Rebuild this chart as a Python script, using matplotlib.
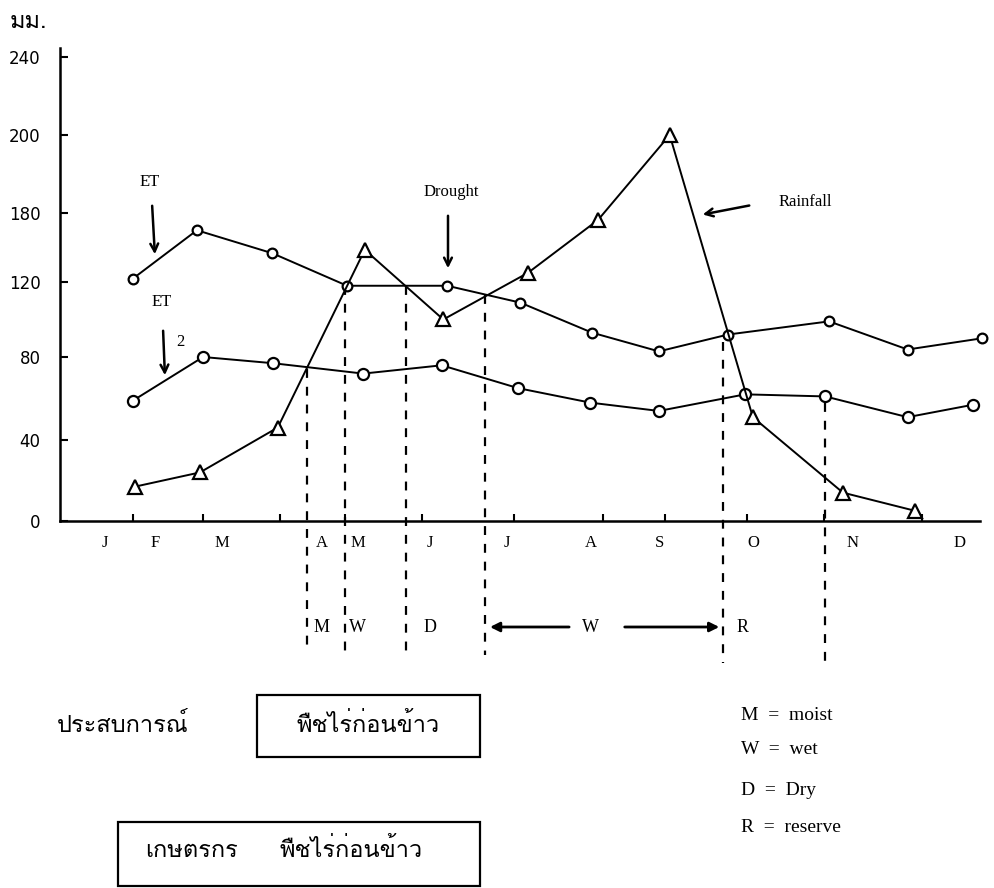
import numpy as np
import matplotlib
matplotlib.use('Agg')
import matplotlib.pyplot as plt
from matplotlib import font_manager
from matplotlib.ft2font import FT2Font
from matplotlib.patches import Rectangle

# values, mm per month (x = month number, hand-drawn so a bit uneven)
et1_x = [1.00, 1.83, 2.81, 3.78, 5.08, 6.03, 6.96, 7.83, 8.73, 10.04, 11.06, 12.03]
et1_mm = [123, 165, 145, 118, 118, 109, 93, 83, 92, 99, 84, 90]

et2_x = [1.00, 1.91, 2.82, 3.99, 5.01, 6.00, 6.94, 7.83, 8.95, 9.99, 11.06, 11.91]
et2_mm = [59, 80, 77, 72, 76, 65, 58, 54, 62, 61, 51, 57]

rain_x = [1.03, 1.87, 2.88, 4.01, 5.03, 6.13, 7.04, 7.97, 9.05, 10.22, 11.16]
rain_mm = [17, 24, 46, 148, 100, 128, 174, 200, 51, 14, 5]

months = ['J', 'F', 'M', 'A', 'M', 'J', 'J', 'A', 'S', 'O', 'N', 'D']
month_pos = [0.64, 1.29, 2.16, 3.45, 3.92, 4.86, 5.86, 6.94, 7.84, 9.05, 10.35, 11.74]
x_ticks = [1.00, 1.91, 2.91, 3.75, 4.75, 5.95, 7.10, 7.91, 8.97, 9.97, 11.25]
y_ticks = [0, 40, 80, 120, 180, 200, 240]

# season boundaries: month position and the mm value where each dashed line starts
bound_x = [3.26, 3.75, 4.55, 5.57, 8.66, 9.99]
bound_top = [74, 118, 118, 113, 88, 58]
season_lab = ['M', 'W', 'D', 'W', 'R']
season_pos = [3.45, 3.92, 4.86, 6.94, 8.91]

legend_lines = ['M  =  moist', 'W  =  wet', 'D  =  Dry', 'R  =  reserve']


def find_thai_font():
    for f in font_manager.fontManager.ttflist:
        try:
            if 0x0E21 in FT2Font(f.fname).get_charmap():
                return f.name
        except Exception:
            pass
    return 'DejaVu Sans'


thai = [find_thai_font(), 'DejaVu Sans']
serif = 'Liberation Serif'

W, H = 994, 888
fig = plt.figure(figsize=(W / 100, H / 100), dpi=100)


def fp(x, y):
    # figure pixels measured from the top-left corner
    return (x, H - y)


# the y axis of the original is not linear: ticks are spaced by hand
tick_px = [0, 81, 164, 239, 308, 386, 464]
scale_v = [-400] + y_ticks + [280]
scale_p = [-810] + tick_px + [542]


def fwd(v):
    return np.interp(v, scale_v, scale_p)


def inv(p):
    return np.interp(p, scale_p, scale_v)


x0_px, axis_px, top_px = 60, 521, 40
ax = fig.add_axes([x0_px / W, (H - axis_px) / H, (W - x0_px) / W, (axis_px - top_px) / H])
ax.set_yscale('function', functions=(fwd, inv))
ax.set_ylim(0, float(inv(axis_px - top_px)))
ax.set_xlim(1 + (x0_px - 133) / 77, 1 + (W - 133) / 77)

line_kw = dict(color='black', lw=1.4, clip_on=False, zorder=3)
ax.plot(et1_x, et1_mm, marker='o', ms=7, mfc='white', mec='black', mew=1.6, **line_kw)
ax.plot(et2_x, et2_mm, marker='o', ms=8, mfc='white', mec='black', mew=1.6, **line_kw)
ax.plot(rain_x, rain_mm, marker='^', ms=10, mfc='white', mec='black', mew=1.6, **line_kw)

# dashed season boundaries, running below the axis
bottom_px = [650, 655, 655, 655, 663, 663]
for bx, top, bp in zip(bound_x, bound_top, bottom_px):
    ax.plot([bx, bx], [top, float(inv(axis_px - bp))], color='black', lw=1.6,
            ls=(0, (4, 4)), clip_on=False, zorder=2)

for sp in ['top', 'right']:
    ax.spines[sp].set_visible(False)
ax.spines['left'].set_linewidth(1.8)
ax.spines['bottom'].set_linewidth(1.8)
ax.spines['left'].set_bounds(0, float(inv(473)))
ax.spines['bottom'].set_bounds(ax.get_xlim()[0], 1 + (980 - 133) / 77)

ax.set_yticks(y_ticks)
ax.set_yticklabels([str(v) for v in y_ticks])
ax.yaxis.set_minor_locator(matplotlib.ticker.NullLocator())
ax.tick_params(axis='y', direction='in', length=6, width=1.5, pad=14, labelsize=12)

ax.set_xticks(x_ticks)
ax.set_xticklabels([])
ax.set_xticks(month_pos, minor=True)
ax.set_xticklabels(months, minor=True, fontfamily=serif, fontsize=12)
ax.tick_params(axis='x', which='major', direction='in', length=5, width=1.5)
ax.tick_params(axis='x', which='minor', length=0, pad=10)

trans = ax.get_xaxis_transform()
row_y = -(627 - axis_px) / (axis_px - top_px)
for lab, pos in zip(season_lab, season_pos):
    ax.text(pos, row_y, lab, transform=trans, ha='center', va='center',
            fontfamily=serif, fontsize=13, bbox=dict(fc='white', ec='none', pad=1))
ax.annotate('', xy=(5.60, row_y), xytext=(6.70, row_y), xycoords=trans, textcoords=trans,
            arrowprops=dict(arrowstyle='-|>', color='black', lw=2, mutation_scale=14))
ax.annotate('', xy=(8.65, row_y), xytext=(7.35, row_y), xycoords=trans, textcoords=trans,
            arrowprops=dict(arrowstyle='-|>', color='black', lw=2, mutation_scale=14))

# labels and pointer arrows inside the chart
arrow = dict(arrowstyle='->', color='black', lw=1.8, mutation_scale=14)
fig.text(*np.divide(fp(150, 182), (W, H)), 'ET', ha='center', va='center',
         fontfamily=serif, fontsize=12)
ax.annotate('', xy=fp(155, 257), xytext=fp(152, 203), xycoords='figure pixels',
            textcoords='figure pixels', arrowprops=arrow)
fig.text(*np.divide(fp(162, 302), (W, H)), 'ET', ha='center', va='center',
         fontfamily=serif, fontsize=12)
fig.text(*np.divide(fp(180, 342), (W, H)), '2', ha='center', va='center',
         fontfamily=serif, fontsize=12)
ax.annotate('', xy=fp(165, 378), xytext=fp(163, 328), xycoords='figure pixels',
            textcoords='figure pixels', arrowprops=arrow)
fig.text(*np.divide(fp(451, 192), (W, H)), 'Drought', ha='center', va='center',
         fontfamily=serif, fontsize=12)
ax.annotate('', xy=fp(448, 271), xytext=fp(448, 213), xycoords='figure pixels',
            textcoords='figure pixels', arrowprops=arrow)
fig.text(*np.divide(fp(805, 202), (W, H)), 'Rainfall', ha='center', va='center',
         fontfamily=serif, fontsize=12)
ax.annotate('', xy=fp(700, 215), xytext=fp(752, 205), xycoords='figure pixels',
            textcoords='figure pixels', arrowprops=arrow)

# unit label
fig.text(10 / W, 1 - 22 / H, 'มม.', ha='left', va='center', family=thai, fontsize=17)

# lower panel: boxes and key
fig.text(57 / W, 1 - 725 / H, 'ประสบการณ์', ha='left', va='center', family=thai, fontsize=17)
fig.add_artist(Rectangle((257 / W, 1 - 757 / H), (480 - 257) / W, (757 - 695) / H,
                         transform=fig.transFigure, fill=False, lw=1.6, ec='black'))
fig.text(368 / W, 1 - 725 / H, 'พืชไร่ก่อนข้าว', ha='center', va='center', family=thai, fontsize=17)

fig.add_artist(Rectangle((118 / W, 1 - 886 / H), (480 - 118) / W, (886 - 822) / H,
                         transform=fig.transFigure, fill=False, lw=1.6, ec='black'))
fig.text(145 / W, 1 - 850 / H, 'เกษตรกร', ha='left', va='center', family=thai, fontsize=17)
fig.text(280 / W, 1 - 850 / H, 'พืชไร่ก่อนข้าว', ha='left', va='center', family=thai, fontsize=17)

for txt, yy in zip(legend_lines, [715, 749, 790, 827]):
    fig.text(741 / W, 1 - yy / H, txt, ha='left', va='center', fontfamily=serif, fontsize=14)

fig.savefig('out.png', dpi=100, facecolor='white')
